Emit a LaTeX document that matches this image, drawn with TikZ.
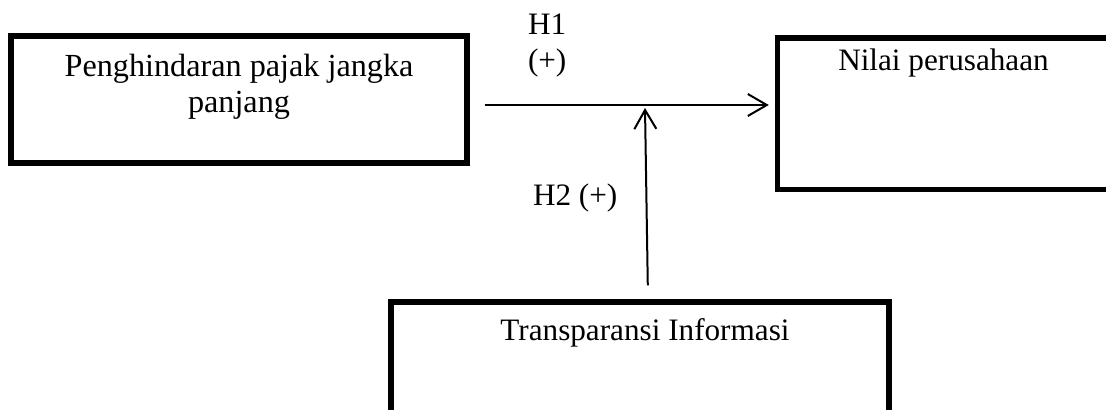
\documentclass[tikz,border=0pt]{standalone}
\usepackage{fontspec}
\setmainfont{Liberation Serif}
\usetikzlibrary{arrows.meta, positioning}

\begin{document}
\begin{tikzpicture}[
            x = 0.5pt, y = -0.5pt, % one unit = one pixel of the drawing
            > = {Straight Barb[length=9.5pt, width=11pt]}, % arrow head style
            line width = 1pt % line style
        ]

        \tikzset{
            kotak/.style = {
                draw = black,
                line width = 2.7pt,
                rectangle,
                inner sep = 0pt
            },
            teks/.style = {
                font = \fontsize{15.6}{18}\selectfont,
                inner sep = 0pt
            },
            panah/.style = {->, shorten <= 7.5pt, shorten >= 3pt}
        }

        \useasboundingbox (0,0) rectangle (1106,409);
        \clip (0,0) rectangle (1106,409);

        % boxes
        \node[kotak, minimum width = 228pt, minimum height = 63.5pt] (penghindaran) at (239,99.5) {};
        \node[kotak, minimum width = 166pt, minimum height = 75.75pt] (nilai) at (943.5,113.75) {};
        \node[kotak, minimum width = 249pt, minimum height = 75pt] (transparansi) at (640,377) {};

        % texts in the boxes
        \node[teks, font = \fontsize{16.1}{18}\selectfont, align = center, anchor = north] (penghindaranteks)
            at ([yshift = -10pt]penghindaran.north) {Penghindaran pajak jangka\\panjang};
        \node[teks, anchor = base] (nilaiteks)
            at ([yshift = -17.5pt]nilai.north) {Nilai perusahaan};
        \node[teks, anchor = base] (transparansiteks)
            at ([xshift = 2.5pt, yshift = -20.5pt]transparansi.north) {Transparansi Informasi};

        % hypotheses
        \node[teks, align = left, anchor = north west] (h1) at (527,13) {H1\\(+)};
        \node[teks, anchor = base west] (h2) at (532,205) {H2 (+)};

        % arrows
        \coordinate (h1awal) at ([yshift = -2.75pt]penghindaran.east);
        \coordinate (moderasi) at (645,108);

        \draw[panah] (h1awal) -- (h1awal -| nilai.west);
        \draw[->, shorten <= 7pt] ([xshift = 4pt]transparansi.north) -- (moderasi);

  \end{tikzpicture}
\end{document}
